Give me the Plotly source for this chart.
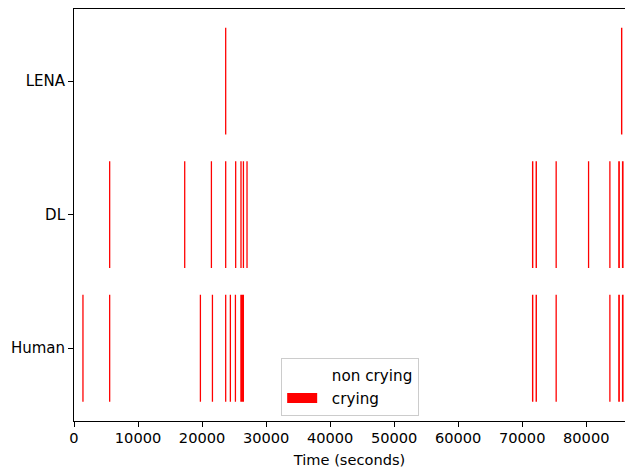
import plotly.graph_objects as go

# Row labels (bottom to top)
rows = ["Human", "DL", "LENA"]

# Crying event start times (seconds) and durations (seconds) per row
human_start = [1300, 5470, 19640, 21520, 23590, 24320, 25110, 25970, 71520, 72080, 75200, 83590, 84990, 85570]
human_dur = [200, 200, 200, 200, 200, 200, 200, 580, 220, 220, 200, 200, 260, 260]

dl_start = [5470, 17190, 21360, 23590, 25150, 25980, 26360, 26920, 71520, 72080, 75200, 80260, 83590, 84990, 85570]
dl_dur = [200, 200, 200, 200, 200, 200, 200, 200, 220, 220, 200, 200, 200, 260, 260]

lena_start = [23590, 85420]
lena_dur = [200, 220]

x_ticks = [0, 10000, 20000, 30000, 40000, 50000, 60000, 70000, 80000]

legend_names = ["non crying", "crying"]

bar_height = 0.8
font = dict(family="DejaVu Sans", size=14.6, color="black")
ytick_font = dict(family="DejaVu Sans", size=15, color="black")
legend_font = dict(family="DejaVu Sans", size=15.2, color="black")

fig = go.Figure()
for idx, (starts, durs) in enumerate([(human_start, human_dur), (dl_start, dl_dur), (lena_start, lena_dur)]):
    lo, hi = idx - bar_height / 2, idx + bar_height / 2
    xs, ys = [], []
    for s, d in zip(starts, durs):
        xs += [s, s + d, s + d, s, s, None]
        ys += [lo, lo, hi, hi, lo, None]
    fig.add_trace(go.Scatter(
        x=xs, y=ys, mode="lines", fill="toself",
        fillcolor="#ff0000", line=dict(width=0, color="#ff0000"),
        showlegend=False, hoverinfo="skip",
    ))

# Legend entries
for name, col in zip(legend_names, ["white", "#ff0000"]):
    fig.add_trace(go.Scatter(x=[None], y=[None], mode="lines",
                             name="\u00a0\u00a0" + name,
                             line=dict(color=col, width=10)))

fig.update_layout(
    width=625, height=471,
    margin=dict(l=74.3, r=0, t=9, b=50, autoexpand=False),
    plot_bgcolor="white", paper_bgcolor="white",
    font=font,
    legend=dict(x=0.376, y=0.153, xanchor="left", yanchor="top",
                bordercolor="#cccccc", borderwidth=1, bgcolor="white",
                font=legend_font, tracegroupgap=0),
)
fig.update_xaxes(
    range=[0, 86050], tickvals=x_ticks, ticktext=[str(v) for v in x_ticks],
    showgrid=False, zeroline=False, showline=True, linecolor="black", linewidth=1,
    mirror=True, ticks="outside", ticklen=5, tickcolor="black",
    ticklabelstandoff=-2,
    title=dict(text="Time (seconds)", font=font, standoff=10), automargin=False,
)
fig.update_yaxes(
    range=[-0.545, 2.54], tickvals=[0, 1, 2], ticktext=rows, tickfont=ytick_font,
    showgrid=False, zeroline=False, showline=True, linecolor="black", linewidth=1,
    ticks="outside", ticklen=5, tickcolor="black", automargin=False,
)

fig.write_html(
    "out.html",
    config={"displayModeBar": False},
    post_script="document.body.style.margin='0';document.body.style.overflow='hidden';",
)
